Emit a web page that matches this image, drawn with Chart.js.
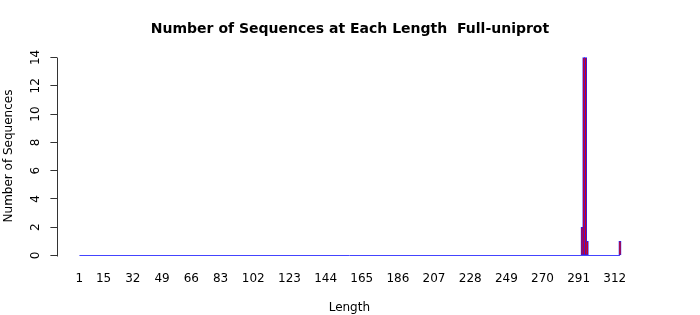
<!DOCTYPE html>
<html>
<head>
<meta charset="utf-8">
<script src="https://cdn.jsdelivr.net/npm/chart.js@4/dist/chart.umd.min.js"></script>
<style>
  html, body { margin: 0; padding: 0; background: #fff; }
  canvas { display: block; }
</style>
</head>
<body>
<canvas id="lengthChart" width="700" height="315"></canvas>
<script>
// Data
const minLength = 1;
const maxLength = 315;
const barLengths = [293, 294, 295, 296, 315];
const barCounts = [2, 14, 14, 1, 1];
const xTickLabels = [1, 15, 32, 49, 66, 83, 102, 123, 144, 165, 186, 207, 228, 249, 270, 291, 312];
const yTickLabels = [0, 2, 4, 6, 8, 10, 12, 14];

// R style extended axis range
const xMin = -11.8;
const xMax = 327.4;
const yMin = -0.53;
const yMax = 14.6;

Chart.defaults.font.family = "'DejaVu Sans', sans-serif";
Chart.defaults.color = '#000';

// y axis drawn like base R: line from first to last tick, labels parallel to axis
const rAxisPlugin = {
  id: 'rAxis',
  afterDraw(chart) {
    const { ctx } = chart;
    const y = chart.scales.y;
    const x = Math.round(chart.chartArea.left) + 0.5;
    ctx.save();
    ctx.strokeStyle = '#333';
    ctx.lineWidth = 1;
    ctx.beginPath();
    ctx.moveTo(x, Math.round(y.getPixelForValue(yTickLabels[0])) + 0.5);
    ctx.lineTo(x, Math.round(y.getPixelForValue(yTickLabels[yTickLabels.length - 1])) + 0.5);
    ctx.stroke();

    ctx.fillStyle = '#000';
    ctx.font = "12px 'DejaVu Sans'";
    ctx.textAlign = 'center';
    ctx.textBaseline = 'middle';
    yTickLabels.forEach((v) => {
      ctx.save();
      ctx.translate(36, y.getPixelForValue(v));
      ctx.rotate(-Math.PI / 2);
      ctx.fillText(String(v), 0, 0);
      ctx.restore();
    });
    ctx.restore();
  }
};

const chart = new Chart(document.getElementById('lengthChart').getContext('2d'), {
  data: {
    datasets: [
      {
        type: 'bar',
        label: 'Sequences',
        data: barLengths.map((len, i) => ({ x: len, y: barCounts[i] })),
        backgroundColor: '#d80010',
        borderColor: '#2020ff',
        borderWidth: 0.8,
        borderSkipped: false,
        barThickness: 2.3,
        order: 2
      },
      {
        type: 'line',
        label: 'baseline',
        data: [{ x: minLength, y: 0 }, { x: maxLength, y: 0 }],
        borderColor: '#4444ff',
        borderWidth: 1,
        pointRadius: 0,
        order: 1
      }
    ]
  },
  options: {
    responsive: false,
    animation: false,
    devicePixelRatio: 1,
    layout: { padding: 0 },
    plugins: {
      legend: { display: false },
      tooltip: { enabled: false },
      title: {
        display: true,
        text: 'Number of Sequences at Each Length  Full-uniprot',
        font: { size: 14, weight: 'bold' },
        color: '#000',
        padding: { top: 20.6, bottom: 11.6 }
      }
    },
    scales: {
      x: {
        type: 'linear',
        offset: false,
        min: xMin,
        max: xMax,
        afterBuildTicks: (scale) => {
          scale.ticks = xTickLabels.map((v) => ({ value: v }));
        },
        afterFit: (scale) => {
          scale.height = 52;
        },
        grid: { display: false, drawTicks: false, offset: false },
        border: { display: false },
        ticks: {
          autoSkip: false,
          maxRotation: 0,
          padding: 9,
          font: { size: 12 },
          color: '#000',
          callback: (v) => String(v)
        },
        title: {
          display: true,
          text: 'Length',
          font: { size: 12 },
          color: '#000',
          padding: { top: 1, bottom: 0 }
        }
      },
      y: {
        type: 'linear',
        min: yMin,
        max: yMax,
        afterBuildTicks: (scale) => {
          scale.ticks = yTickLabels.map((v) => ({ value: v }));
        },
        afterFit: (scale) => {
          scale.width = 57.4;
        },
        grid: {
          display: true,
          drawOnChartArea: false,
          drawTicks: true,
          tickLength: 7,
          color: '#333'
        },
        border: { display: false },
        ticks: { display: false },
        title: {
          display: true,
          text: 'Number of Sequences',
          font: { size: 12 },
          color: '#000',
          padding: { top: 2, bottom: 0 }
        }
      },
      // empty right margin, same as the R plot region
      yRight: {
        type: 'linear',
        position: 'right',
        min: yMin,
        max: yMax,
        afterFit: (scale) => {
          scale.width = 58.7;
        },
        grid: { display: false },
        border: { display: false },
        ticks: { display: false }
      }
    }
  },
  plugins: [rAxisPlugin]
});
</script>
</body>
</html>
